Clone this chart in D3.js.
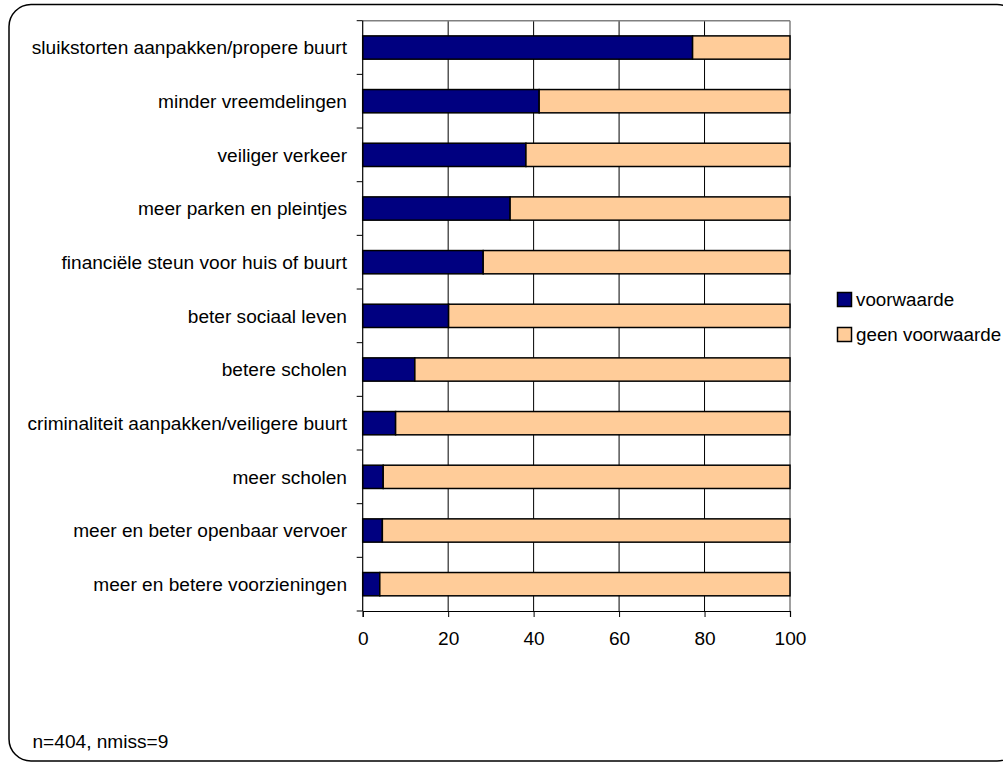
<!DOCTYPE html>
<html>
<head>
<meta charset="utf-8">
<script src="https://cdn.jsdelivr.net/npm/d3@7"></script>
<style>
html,body{margin:0;padding:0;background:#fff;}
svg{display:block;font-family:"Liberation Sans",Arial,sans-serif;}
</style>
</head>
<body>
<svg id="chart" width="1003" height="763"></svg>
<script>
const categories = [
  "sluikstorten aanpakken/propere buurt",
  "minder vreemdelingen",
  "veiliger verkeer",
  "meer parken en pleintjes",
  "financiële steun voor huis of buurt",
  "beter sociaal leven",
  "betere scholen",
  "criminaliteit aanpakken/veiligere buurt",
  "meer scholen",
  "meer en beter openbaar vervoer",
  "meer en betere voorzieningen"
];
const voorwaarde = [77.2, 41.3, 38.2, 34.5, 28.2, 20.1, 12.2, 7.7, 4.8, 4.6, 4.0];
const geenVoorwaarde = voorwaarde.map(v => 100 - v);
const seriesNames = ["voorwaarde", "geen voorwaarde"];
const seriesColors = ["#000080", "#FFCC99"];
const xTicks = [0, 20, 40, 60, 80, 100];
const footnote = "n=404, nmiss=9";

const svg = d3.select("#chart");
const fs = 19.1;

// outer frame
svg.append("rect").attr("x", 9).attr("y", 4.5).attr("width", 1010).attr("height", 756.5)
  .attr("rx", 22).attr("ry", 22).attr("fill", "#fff").attr("stroke", "#000").attr("stroke-width", 1.5);

const L = 362.7, R = 790, T = 20.7, B = 611;
const x = d3.scaleLinear().domain([0, 100]).range([L, R]);
const y = d3.scaleBand().domain(categories).range([T, B]).paddingInner(0.566).paddingOuter(0.283);
const yEdges = d3.scaleLinear().domain([0, categories.length]).range([T, B]);

const g = svg.append("g");

// gridlines
g.selectAll("line.grid").data(xTicks.filter(t => t > 0 && t < 100)).join("line")
  .attr("x1", d => x(d)).attr("x2", d => x(d)).attr("y1", T).attr("y2", B)
  .attr("stroke", "#000").attr("stroke-width", 1);
// plot border (top, right) gray
g.append("line").attr("x1", L).attr("x2", R).attr("y1", T).attr("y2", T).attr("stroke", "#808080").attr("stroke-width", 1.5);
g.append("line").attr("x1", R).attr("x2", R).attr("y1", T).attr("y2", B).attr("stroke", "#808080").attr("stroke-width", 1.5);

// stacked bars
const stackData = categories.map((c, i) => ({cat: c, voorwaarde: voorwaarde[i], "geen voorwaarde": geenVoorwaarde[i]}));
const stacked = d3.stack().keys(seriesNames)(stackData);
stacked.forEach((layer, k) => {
  g.selectAll("rect.s" + k).data(layer).join("rect")
    .attr("x", d => x(d[0])).attr("width", d => x(d[1]) - x(d[0]))
    .attr("y", d => y(d.data.cat)).attr("height", y.bandwidth())
    .attr("fill", seriesColors[k]).attr("stroke", "#000").attr("stroke-width", 1.5);
});

// y axis
const yAxisG = g.append("g");
yAxisG.append("line").attr("x1", L).attr("x2", L).attr("y1", T).attr("y2", B).attr("stroke", "#000").attr("stroke-width", 1.2);
yAxisG.selectAll("line.tk").data(d3.range(categories.length + 1)).join("line")
  .attr("x1", L - 6).attr("x2", L).attr("y1", d => yEdges(d)).attr("y2", d => yEdges(d))
  .attr("stroke", "#000").attr("stroke-width", 1);
yAxisG.selectAll("text").data(categories).join("text")
  .attr("x", 347).attr("y", d => y(d) + y.bandwidth() / 2).attr("dy", "0.35em")
  .attr("text-anchor", "end").attr("font-size", fs).attr("fill", "#000").text(d => d);

// x axis
const xAxis = d3.axisBottom(x).tickValues(xTicks).tickSize(6).tickPadding(14).tickFormat(d3.format("d"));
const xg = g.append("g").attr("transform", `translate(0,${B})`).call(xAxis);
xg.select(".domain").attr("stroke", "#000").attr("stroke-width", 1.2);
xg.selectAll(".tick line").attr("stroke", "#000");
xg.selectAll(".tick text").attr("font-size", fs).attr("fill", "#000").attr("font-family", "Liberation Sans, Arial, sans-serif");

// legend
const leg = svg.append("g");
seriesNames.forEach((s, i) => {
  const cy = 299.5 + i * 35;
  leg.append("rect").attr("x", 837.5).attr("y", cy - 7).attr("width", 14).attr("height", 14)
    .attr("fill", seriesColors[i]).attr("stroke", "#000").attr("stroke-width", 1.5);
  leg.append("text").attr("x", 856).attr("y", cy).attr("dy", "0.35em")
    .attr("font-size", 18.8).attr("fill", "#000").text(s);
});

// footnote
svg.append("text").attr("x", 32.5).attr("y", 748).attr("font-size", fs).attr("fill", "#000").text(footnote);
</script>
</body>
</html>
